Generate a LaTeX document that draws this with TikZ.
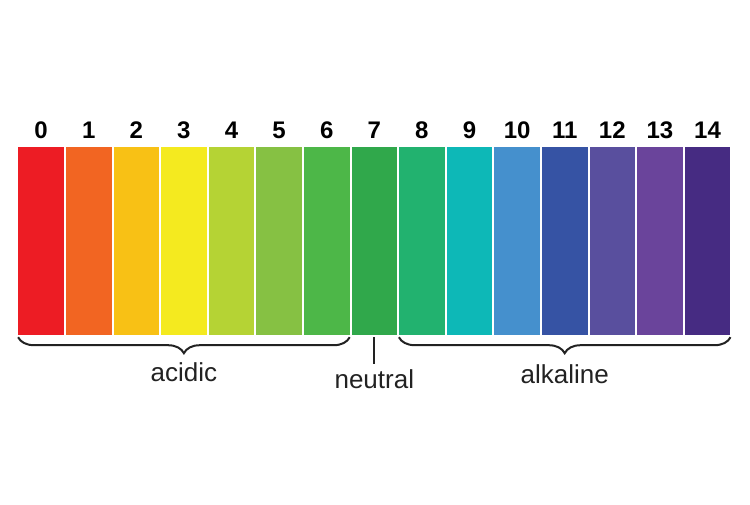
\documentclass[tikz,border=0pt]{standalone}
\usepackage{fontspec}
\setmainfont{Liberation Sans}
\usepackage{tikz}
\usetikzlibrary{decorations.pathreplacing}

\definecolor{ph0}{HTML}{ED1C24}
\definecolor{ph1}{HTML}{F26522}
\definecolor{ph2}{HTML}{F8C115}
\definecolor{ph3}{HTML}{F4EA1F}
\definecolor{ph4}{HTML}{B5D334}
\definecolor{ph5}{HTML}{86C143}
\definecolor{ph6}{HTML}{4DB748}
\definecolor{ph7}{HTML}{30A84B}
\definecolor{ph8}{HTML}{22B26F}
\definecolor{ph9}{HTML}{0DB8B7}
\definecolor{ph10}{HTML}{4590CD}
\definecolor{ph11}{HTML}{3653A4}
\definecolor{ph12}{HTML}{594F9E}
\definecolor{ph13}{HTML}{6A449B}
\definecolor{ph14}{HTML}{462B82}
\definecolor{inkline}{HTML}{222222}

\tikzset{
    phbar/.style={inner sep=0, minimum width=45.6pt, minimum height=188pt},
    phnum/.style={anchor=base, font=\fontsize{24}{24}\selectfont\bfseries},
    phbrace/.style={decorate, decoration={brace, amplitude=16pt}, line width=2pt, draw=inkline},
    phlabel/.style={anchor=base, font=\fontsize{26}{26}\selectfont, text=inkline}
}

\begin{document}
\begin{tikzpicture}[x=1pt, y=-1pt]
    \useasboundingbox (0,0) rectangle (750,504);

    % Draw the colour bars and the numbers
    \foreach \i in {0,...,14} {
        \node[phbar, fill=ph\i] (bar\i) at (41.1+47.6*\i, 241) {};
        \node[phnum] (num\i) at ([yshift=8pt]bar\i.north) {\i};
    }

    % Braces under the bars
    \draw[phbrace] ([yshift=-2pt]bar6.south east) -- ([yshift=-2pt]bar0.south west)
        node[phlabel, midway, yshift=-44pt] (acidic) {acidic};
    \draw[phbrace] ([yshift=-2pt]bar14.south east) -- ([yshift=-2pt]bar8.south west)
        node[phlabel, midway, yshift=-46pt] (alkaline) {alkaline};

    % Tick for neutral
    \coordinate (tick) at ([yshift=-29pt]bar7.south);
    \draw[line width=2pt, inkline] ([yshift=-2pt]bar7.south) -- (tick);
    \node[phlabel] (neutral) at ([yshift=-24pt]tick) {neutral};
\end{tikzpicture}
\end{document}
